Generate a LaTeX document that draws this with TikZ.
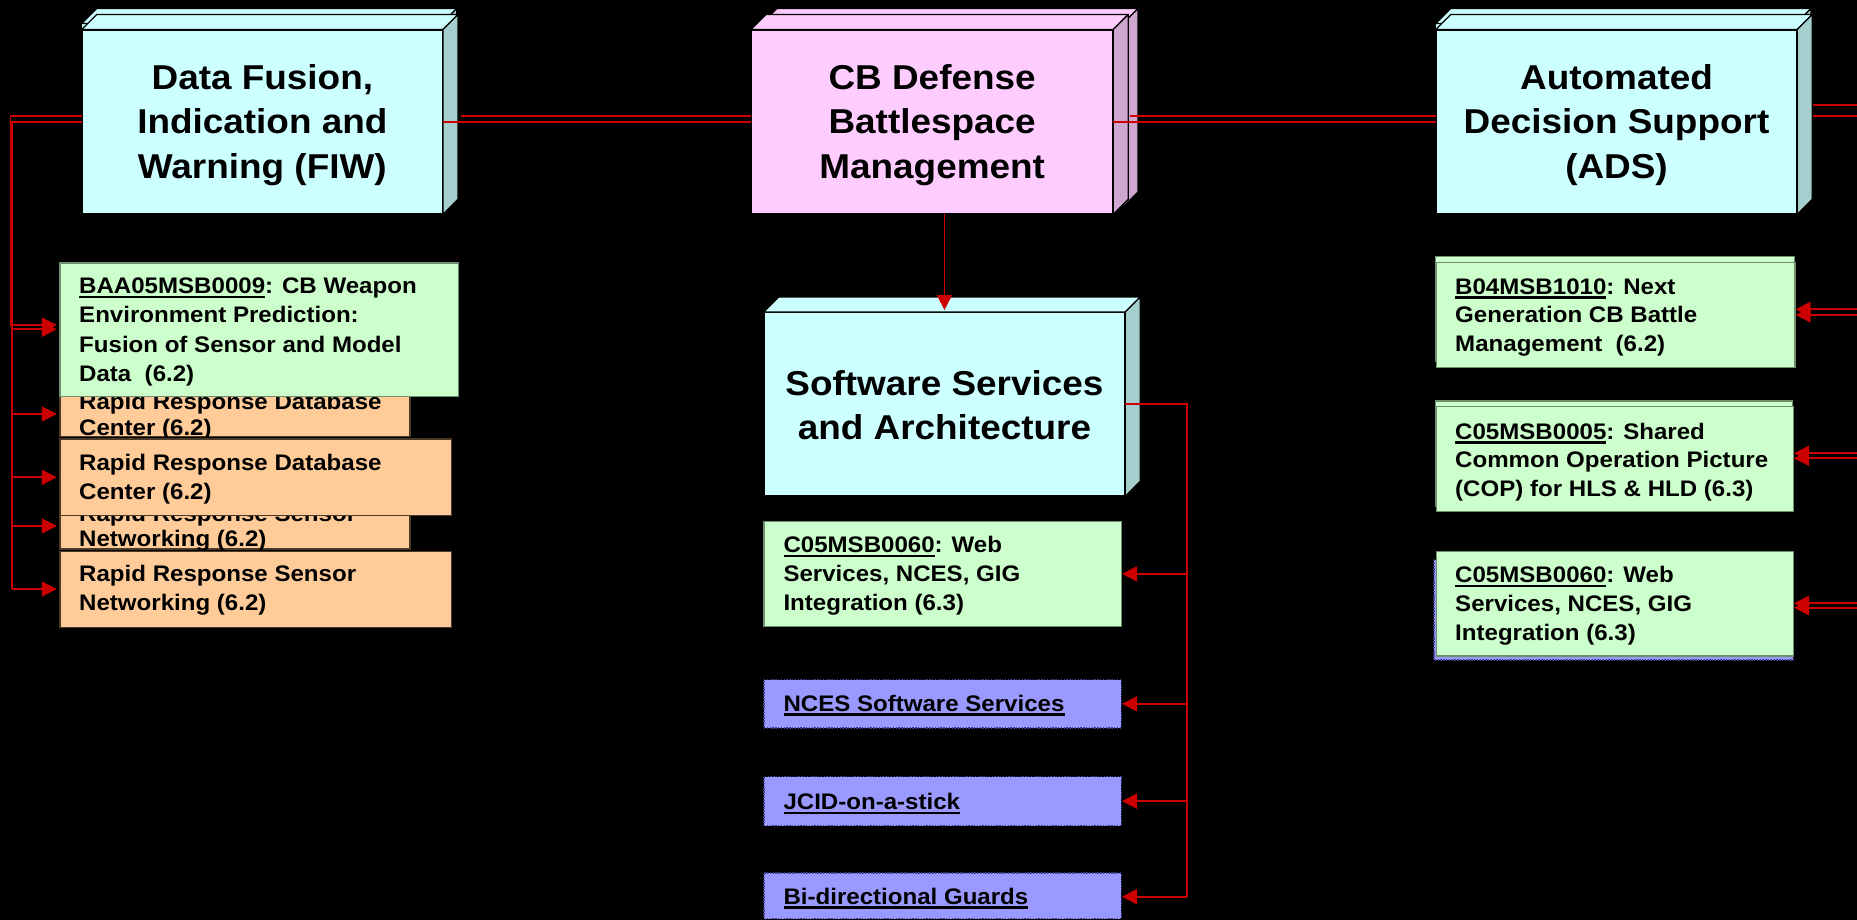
\documentclass[tikz,border=0pt]{standalone}
\usepackage{fontspec}
\setmainfont{Liberation Sans}[FakeStretch=1.07]
\usetikzlibrary{arrows.meta}
\definecolor{cyanF}{HTML}{CCFFFF}
\definecolor{cyanS}{HTML}{A5CECE}
\definecolor{pinkF}{HTML}{FFCCFF}
\definecolor{pinkS}{HTML}{CFA6CF}
\definecolor{greenF}{HTML}{CCFFCC}
\definecolor{gborder}{HTML}{6E8E6E}
\definecolor{orangeF}{HTML}{FFCC99}
\definecolor{oborder}{HTML}{4D3A26}
\definecolor{lavF}{HTML}{9999FF}
\definecolor{lborder}{HTML}{3C3C8C}
\definecolor{arrowred}{HTML}{CC0000}
\newcommand\titlefont{\fontsize{34.5bp}{44.5bp}\selectfont\bfseries}
\newcommand\smallfont{\fontsize{22.5bp}{28.8bp}\selectfont\bfseries}
\newcommand\ulx[1]{\setbox0\hbox{#1}\rlap{\rule[-4.5bp]{\wd0}{2.2bp}}\box0}
\newcommand\backbox[6]{%
  \filldraw[fill=#5, facestyle] (#1,#2) rectangle (#3,#4);
  \filldraw[fill=#5, facestyle] (#1,#2) -- (#1+15,#2-15) -- (#3+15,#2-15) -- (#3,#2) -- cycle;
  \filldraw[fill=#6, facestyle] (#3,#2) -- (#3+15,#2-15) -- (#3+15,#4-15) -- (#3,#4) -- cycle;}
\newcommand\boxsides[3]{%
  \filldraw[fill=#2, facestyle] (#1.north west) -- ++(15,-15) -- ([shift={(15,-15)}]#1.north east) -- (#1.north east) -- cycle;
  \filldraw[fill=#3, facestyle] (#1.north east) -- ++(15,-15) -- ([shift={(15,-15)}]#1.south east) -- (#1.south east) -- cycle;}
\begin{document}
\begin{tikzpicture}[x=1bp,y=-1bp,
  facestyle/.style={draw=black, line width=1.3bp, line join=round},
  frontface/.style={facestyle, anchor=north west, inner sep=0pt},
  titletxt/.style={align=center, inner sep=0pt, font=\titlefont},
  gbox/.style={draw=gborder, fill=greenF, line width=1.3bp, anchor=north west, inner sep=0pt},
  obox/.style={draw=oborder, fill=orangeF, line width=1.3bp, anchor=north west, inner sep=0pt},
  lbox/.style={draw=lborder, fill=lavF, line width=1.3bp, dash pattern=on 1.4bp off 1.4bp, anchor=north west, inner sep=0pt},
  txt/.style={anchor=base west, align=left, inner sep=0pt, font=\smallfont},
  conn/.style={draw=arrowred, line width=1.8bp},
  arr/.style={conn, -{Triangle[length=15bp,width=15bp]}},
]
\fill[black] (0,0) rectangle (1857,920);
\useasboundingbox (0,0) rectangle (1857,920);

% ---------- 3D title boxes ----------
\backbox{81.7}{23.5}{441.7}{207}{cyanF}{cyanS}
\node[frontface, fill=cyanF, minimum width=360bp, minimum height=183.5bp] (fiw) at (81.7,29.5) {};
\boxsides{fiw}{cyanF}{cyanS}
\node[titletxt] (fiwT) at ([yshift=-3bp]fiw.center) {Data Fusion,\\Indication and\\Warning (FIW)};

\backbox{762}{23.5}{1123}{207}{pinkF}{pinkS}
\node[frontface, fill=pinkF, minimum width=361bp, minimum height=183.5bp] (cbd) at (751,29.5) {};
\boxsides{cbd}{pinkF}{pinkS}
\node[titletxt] (cbdT) at ([yshift=-3bp]cbd.center) {CB Defense\\Battlespace\\Management};

\backbox{1435.7}{23.5}{1796}{207}{cyanF}{cyanS}
\node[frontface, fill=cyanF, minimum width=360.3bp, minimum height=183.5bp] (ads) at (1435.7,29.5) {};
\boxsides{ads}{cyanF}{cyanS}
\node[titletxt] (adsT) at ([yshift=-3bp]ads.center) {Automated\\Decision Support\\(ADS)};

\node[frontface, fill=cyanF, minimum width=360.4bp, minimum height=183bp] (ssa) at (763.6,312) {};
\boxsides{ssa}{cyanF}{cyanS}
\node[titletxt] (ssaT) at ([yshift=-1bp]ssa.center) {Software Services\\and Architecture};

% ---------- left column ----------
\node[obox, minimum width=350bp, minimum height=56bp] (rr1) at (59.3,380) {};
\node[txt, font={\fontsize{22.5bp}{25.7bp}\selectfont\bfseries}] (rr1t) at (79,435) {Rapid Response Database\\Center (6.2)};
\node[obox, minimum width=350bp, minimum height=53.3bp] (rr3) at (59.3,495) {};
\node[txt, font={\fontsize{22.5bp}{25bp}\selectfont\bfseries}] (rr3t) at (79,546.7) {Rapid Response Sensor\\Networking (6.2)};

\node[gbox, minimum width=398.2bp, minimum height=133.4bp] (baa) at (59.3,262.3) {};
\node[txt, font={\fontsize{22.5bp}{29.5bp}\selectfont\bfseries}] (baat) at (79,381.7) {\ulx{BAA05MSB0009}: CB Weapon\\Environment Prediction:\\Fusion of Sensor and Model\\Data~~(6.2)};

\node[obox, minimum width=391.5bp, minimum height=76.7bp] (rr2) at (59.3,438.3) {};
\node[txt, font={\fontsize{22.5bp}{28.3bp}\selectfont\bfseries}] (rr2t) at (79,499) {Rapid Response Database\\Center (6.2)};
\node[obox, minimum width=391.5bp, minimum height=76bp] (rr4) at (59.3,550.7) {};
\node[txt, font={\fontsize{22.5bp}{28.3bp}\selectfont\bfseries}] (rr4t) at (79,610) {Rapid Response Sensor\\Networking (6.2)};

% ---------- center column ----------
\node[gbox, minimum width=357.4bp, minimum height=105bp] (c60) at (763.3,520.7) {};
\node[txt] (c60t) at (783.3,610) {\ulx{C05MSB0060}: Web\\Services, NCES, GIG\\Integration (6.3)};
\node[lbox, minimum width=357.4bp, minimum height=48.3bp] (nces) at (763.3,679) {};
\node[txt] (ncest) at (783.3,711) {\ulx{NCES Software Services}};
\node[lbox, minimum width=357.4bp, minimum height=49bp] (jcid) at (763.3,776) {};
\node[txt] (jcidt) at (783.3,809.3) {\ulx{JCID-on-a-stick}};
\node[lbox, minimum width=357.4bp, minimum height=45.7bp] (bidir) at (763.3,872.3) {};
\node[txt] (bidirt) at (783.3,904) {\ulx{Bi-directional Guards}};

% ---------- right column ----------
\draw[draw=gborder, fill=greenF, line width=1.3bp] (1435.7,256.7) rectangle (1794.3,361.7);
\node[gbox, minimum width=358.6bp, minimum height=105bp] (b04) at (1435.7,261.7) {};
\node[txt] (b04t) at (1455,351.7) {\ulx{B04MSB1010}: Next\\Generation CB Battle\\Management~~(6.2)};
\draw[draw=gborder, fill=greenF, line width=1.3bp] (1435.7,401) rectangle (1792.7,506);
\node[gbox, minimum width=357bp, minimum height=105.3bp] (c05) at (1435.7,405.7) {};
\node[txt] (c05t) at (1455,496.7) {\ulx{C05MSB0005}: Shared\\Common Operation Picture\\(COP) for HLS \& HLD (6.3)};
\draw[draw=lborder, fill=lavF, line width=1.3bp, dash pattern=on 1.4bp off 1.4bp] (1434,560) rectangle (1793.3,660);
\node[gbox, minimum width=357bp, minimum height=104.6bp] (c60r) at (1435.7,550.7) {};
\node[txt] (c60rt) at (1455,640) {\ulx{C05MSB0060}: Web\\Services, NCES, GIG\\Integration (6.3)};

% ---------- connectors ----------
\coordinate (hA) at (0,116);
\coordinate (hB) at (0,121.7);
\coordinate (L1) at (10.5,325);
\coordinate (L2) at (12,589);
\coordinate (yb) at (0,329.3);
\coordinate (y1) at (0,414);
\coordinate (y3) at (0,526);
\draw[arr, shorten >=2.5bp] (fiw.west |- hA) -| (L1) -- (baa.west |- L1);
\draw[conn] (fiw.west |- hB) -| (L2);
\draw[arr, shorten >=2.5bp] (L2 |- yb) -- (baa.west |- yb);
\draw[arr, shorten >=2.5bp] (L2 |- y1) -- (rr1.west |- y1);
\draw[arr, shorten >=2.5bp] (L2 |- rr2.west) -- (rr2.west);
\draw[arr, shorten >=2.5bp] (L2 |- y3) -- (rr3.west |- y3);
\draw[arr, shorten >=2.5bp] (L2) -- (rr4.west |- L2);

\coordinate (fiwS) at ([xshift=17.5bp]fiw.east);
\draw[conn] (fiwS |- hA) -- (cbd.west |- hA);
\draw[conn] (fiw.east |- hB) -- (cbd.west |- hB);
\coordinate (cbdS) at ([xshift=16.6bp]cbd.east);
\draw[conn] (cbdS |- hA) -- (ads.west |- hA);
\draw[conn] (cbd.east |- hB) -- (ads.west |- hB);

\coordinate (adsS) at ([xshift=16bp]ads.east);
\coordinate (E1) at (1857,105);
\coordinate (E2) at (1857,115.7);
\draw[conn] (adsS |- E1) -- (E1);
\draw[conn] (adsS |- E2) -- (E2);

\coordinate (Ra1) at (1857,309.3);
\coordinate (Ra2) at (1857,315);
\coordinate (Rb1) at (1857,453.3);
\coordinate (Rb2) at (1857,458.3);
\coordinate (Rc1) at (1857,603.3);
\coordinate (Rc2) at (1857,607.7);
\draw[arr] (Ra1) -- (b04.east |- Ra1);
\draw[arr] (Ra2) -- (b04.east |- Ra2);
\draw[arr] (Rb1) -- (c05.east |- Rb1);
\draw[arr] (Rb2) -- (c05.east |- Rb2);
\draw[arr] (Rc1) -- (c60r.east |- Rc1);
\draw[arr] (Rc2) -- (c60r.east |- Rc2);

\draw[arr, shorten >=2bp] (cbd.south -| ssa.north) -- (ssa.north);

\coordinate (sA) at (0,404);
\coordinate (V) at (1187.3,896.7);
\draw[conn] (ssa.east |- sA) -| (V);
\draw[arr] (V |- c60.east) -- (c60.east);
\draw[arr] (V |- nces.east) -- (nces.east);
\draw[arr] (V |- jcid.east) -- (jcid.east);
\draw[arr] (V) -- (bidir.east |- V);
\end{tikzpicture}
\end{document}
